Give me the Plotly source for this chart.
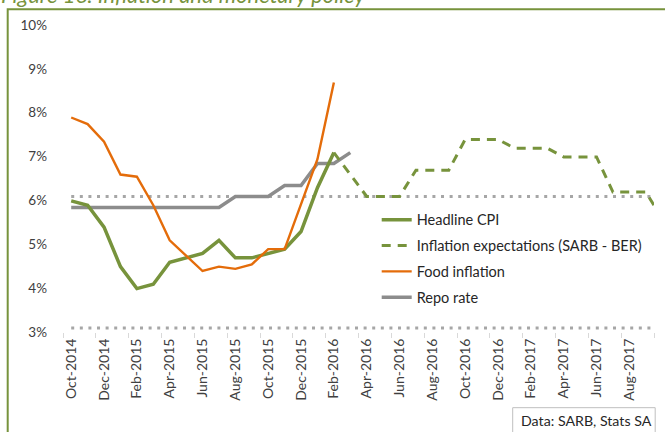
import plotly.graph_objects as go

# ---------------- data ----------------
months = ["Oct-2014", "Nov-2014", "Dec-2014", "Jan-2015", "Feb-2015", "Mar-2015",
          "Apr-2015", "May-2015", "Jun-2015", "Jul-2015", "Aug-2015", "Sep-2015",
          "Oct-2015", "Nov-2015", "Dec-2015", "Jan-2016", "Feb-2016", "Mar-2016",
          "Apr-2016", "May-2016", "Jun-2016", "Jul-2016", "Aug-2016", "Sep-2016",
          "Oct-2016", "Nov-2016", "Dec-2016", "Jan-2017", "Feb-2017", "Mar-2017",
          "Apr-2017", "May-2017", "Jun-2017", "Jul-2017", "Aug-2017", "Sep-2017",
          "Oct-2017"]

headline_cpi = [5.9, 5.8, 5.3, 4.4, 3.9, 4.0, 4.5, 4.6, 4.7, 5.0, 4.6, 4.6,
                4.7, 4.8, 5.2, 6.2, 7.0]                     # Oct-2014 .. Feb-2016

food_inflation = [7.8, 7.65, 7.25, 6.5, 6.45, 5.8, 5.0, 4.65, 4.3, 4.4, 4.35,
                  4.45, 4.8, 4.8, 5.85, 6.85, 8.6]           # Oct-2014 .. Feb-2016

repo_rate = [5.75, 5.75, 5.75, 5.75, 5.75, 5.75, 5.75, 5.75, 5.75, 5.75,
             6.0, 6.0, 6.0, 6.25, 6.25, 6.75, 6.75, 7.0]     # Oct-2014 .. Mar-2016

expect_start = 16                                             # Feb-2016
inflation_expectations = [7.0, 6.5, 6.0, 6.0, 6.0, 6.6, 6.6, 6.6, 7.3, 7.3, 7.3,
                          7.1, 7.1, 7.1, 6.9, 6.9, 6.9, 6.1, 6.1, 6.1, 5.5]

target_low = 3
target_high = 6

y_ticks = [3, 4, 5, 6, 7, 8, 9, 10]
y_tick_labels = ["3%", "4%", "5%", "6%", "7%", "8%", "9%", "10%"]

# ---------------- styles ----------------
GREEN = "#77933C"
ORANGE = "#E46C0A"
GREY = "#8C8C8C"
DOT = "#A6A6A6"
FONT = "Lato"
TXT = "#404040"

fig = go.Figure()

fig.add_trace(go.Scatter(x=months, y=[target_low] * len(months), mode="lines",
                         line=dict(color=DOT, width=3, dash="3px,5.6px"),
                         showlegend=False, hoverinfo="skip", zorder=0))
fig.add_trace(go.Scatter(x=months, y=[target_high] * len(months), mode="lines",
                         line=dict(color=DOT, width=3, dash="3px,5.6px"),
                         showlegend=False, hoverinfo="skip", zorder=0))

fig.add_trace(go.Scatter(x=months[:len(headline_cpi)], y=headline_cpi, mode="lines",
                         name="Headline CPI", legendgroup="a",
                         line=dict(color=GREEN, width=3.5), zorder=2))
fig.add_trace(go.Scatter(x=months[expect_start:expect_start + len(inflation_expectations)],
                         y=inflation_expectations, mode="lines",
                         name="Inflation expectations (SARB - BER)", legendgroup="b",
                         line=dict(color=GREEN, width=3, dash="9px,7px"), zorder=3))
fig.add_trace(go.Scatter(x=months[:len(food_inflation)], y=food_inflation, mode="lines",
                         name="Food inflation", legendgroup="c",
                         line=dict(color=ORANGE, width=2.4), zorder=4))
fig.add_trace(go.Scatter(x=months[:len(repo_rate)], y=repo_rate, mode="lines",
                         name="Repo rate", legendgroup="d",
                         line=dict(color=GREY, width=3.5), zorder=1))

PL, PR, PT, PB = 63.3, 654.3, 21.2, 332.3
W = PR - PL
H = PB - PT


def px_x(px):
    return (px - PL) / W


def px_y(py):
    return (PB - py) / H


fig.update_layout(
    width=665, height=432,
    margin=dict(l=PL, r=665 - PR, t=PT, b=432 - PB),
    paper_bgcolor="white", plot_bgcolor="white",
    font=dict(family=FONT, size=13, color=TXT),
    showlegend=True,
    legend=dict(x=px_x(377), xanchor="left", y=px_y(204), yanchor="top",
                bgcolor="rgba(0,0,0,0)", font=dict(family=FONT, size=14.5, color="#262626"),
                traceorder="grouped", tracegroupgap=4),
    xaxis=dict(type="category", categoryorder="array", categoryarray=months,
               range=[-0.5, 35.5], tickmode="linear", tick0=0, dtick=2,
               tickson="boundaries", ticks="outside", ticklen=5, tickcolor="#D9D9D9",
               showline=True, linecolor="#D9D9D9", linewidth=1, showgrid=False,
               tickangle=-90, tickfont=dict(family=FONT, size=14, color=TXT)),
    yaxis=dict(range=[2.91, 10.0], tickmode="array", tickvals=y_ticks, ticktext=y_tick_labels,
               showgrid=False, zeroline=False, showline=False, ticks="",
               ticklabelstandoff=15, ticklabelshift=4,
               tickfont=dict(family=FONT, size=13.5, color=TXT)),
    shapes=[
        dict(type="rect", xref="paper", yref="paper",
             x0=px_x(8), x1=px_x(720), y0=px_y(9.5), y1=px_y(470),
             line=dict(color=GREEN, width=2), fillcolor="rgba(0,0,0,0)", layer="below"),
        dict(type="rect", xref="paper", yref="paper",
             x0=px_x(513), x1=px_x(655.5), y0=px_y(408), y1=px_y(470),
             line=dict(color="#BFBFBF", width=1), fillcolor="white", layer="below"),
    ],
    annotations=[
        dict(text="Figure 16: Inflation and monetary policy", xref="paper", yref="paper",
             x=px_x(-1), y=px_y(-5), xanchor="left", yanchor="middle", showarrow=False,
             font=dict(family=FONT, size=22, color=GREEN, style="italic")),
        dict(text="Data: SARB, Stats SA", xref="paper", yref="paper",
             x=px_x(519), y=px_y(421), xanchor="left", yanchor="middle", showarrow=False,
             font=dict(family=FONT, size=14.2, color="#262626")),
    ],
)

fig.write_html("out.html", config={"displayModeBar": False},
               post_script="document.body.style.margin='0';document.body.style.padding='0';")
